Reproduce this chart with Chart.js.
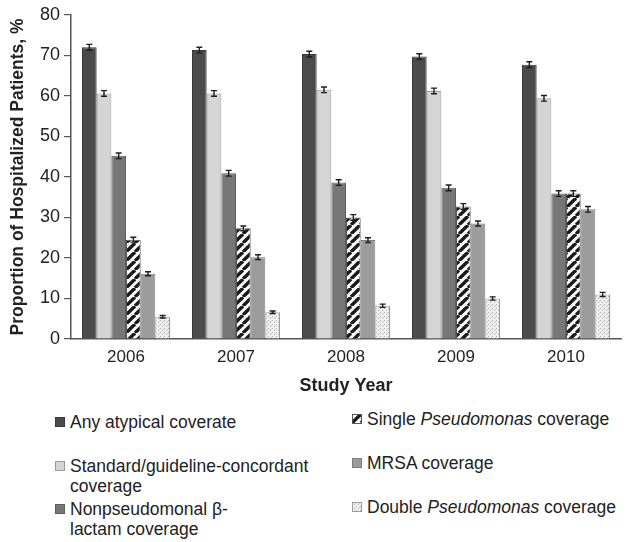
<!DOCTYPE html>
<html>
<head>
<meta charset="utf-8">
<script src="https://cdn.jsdelivr.net/npm/chart.js@4/dist/chart.umd.min.js"></script>
<style>
  html, body { margin: 0; padding: 0; background: #fff; }
  body { width: 629px; height: 542px; position: relative; overflow: hidden;
         font-family: "Liberation Sans", Arial, sans-serif; color: #222; }
  #wrap { position: absolute; left: 0; top: 0; width: 629px; height: 400px; }
  .leg { position: absolute; font-size: 17.5px; line-height: 20px; white-space: nowrap; }
  .leg canvas { position: absolute; left: 0; top: 5px; }
  .leg span { display: block; padding-left: 15px; }
</style>
</head>
<body>
<div id="wrap"><canvas id="chart" width="629" height="400"></canvas></div>
<div id="legend"></div>
<script>
// Coverage by study year, % of hospitalized patients (with 95% CI half-widths)
const YEARS = ['2006', '2007', '2008', '2009', '2010'];

const SERIES_LABELS = [
  'Any atypical coverate',
  'Standard/guideline-concordant<br>coverage',
  'Nonpseudomonal \u03b2-<br>lactam coverage',
  'Single <i>Pseudomonas</i> coverage',
  'MRSA coverage',
  'Double <i>Pseudomonas</i> coverage'
];

const ATYPICAL     = [72.0, 71.3, 70.3, 69.7, 67.7];
const STANDARD     = [60.6, 60.6, 61.5, 61.2, 59.4];
const NONPSEUDO    = [45.2, 40.9, 38.6, 37.3, 35.9];
const SINGLE_PSEUD = [24.5, 27.3, 30.0, 32.7, 35.9];
const MRSA         = [16.1, 20.2, 24.4, 28.5, 32.0];
const DOUBLE_PSEUD = [5.5, 6.6, 8.2, 10.0, 11.0];

const ATYPICAL_ERR     = [0.7, 0.7, 0.7, 0.7, 0.7];
const STANDARD_ERR     = [0.7, 0.7, 0.7, 0.7, 0.7];
const NONPSEUDO_ERR    = [0.7, 0.7, 0.7, 0.7, 0.7];
const SINGLE_PSEUD_ERR = [0.6, 0.6, 0.7, 0.7, 0.7];
const MRSA_ERR         = [0.5, 0.6, 0.6, 0.6, 0.7];
const DOUBLE_PSEUD_ERR = [0.3, 0.3, 0.4, 0.4, 0.5];

const Y_MIN = 0, Y_MAX = 80, Y_STEP = 10;

const FONT = '"Liberation Sans", Arial, sans-serif';

// Fill patterns
function hatchPattern(ctx) {
  const n = 9;
  const c = document.createElement('canvas');
  c.width = n; c.height = n;
  const g = c.getContext('2d');
  g.fillStyle = '#fff';
  g.fillRect(0, 0, n, n);
  g.strokeStyle = '#1a1a1a';
  g.lineWidth = 3.4;
  for (const off of [-n, 0, n]) {
    g.beginPath();
    g.moveTo(off, n);
    g.lineTo(off + n, 0);
    g.stroke();
  }
  return ctx.createPattern(c, 'repeat');
}

function dotPattern(ctx) {
  const c = document.createElement('canvas');
  c.width = 4; c.height = 4;
  const g = c.getContext('2d');
  g.fillStyle = '#f0f0f0';
  g.fillRect(0, 0, 4, 4);
  g.fillStyle = '#b0b0b0';
  g.fillRect(0, 0, 1, 1);
  g.fillRect(2, 2, 1, 1);
  g.fillStyle = '#cfcfcf';
  g.fillRect(3, 1, 1, 1);
  return ctx.createPattern(c, 'repeat');
}

const canvas = document.getElementById('chart');
const ctx = canvas.getContext('2d');

const FILLS = [
  () => '#4b4b4b',
  () => '#d5d5d5',
  () => '#777777',
  c => hatchPattern(c),
  () => '#9c9c9c',
  c => dotPattern(c)
];
const BORDERS = ['#3a3a3a', '#9a9a9a', '#5e5e5e', '#555555', '#7e7e7e', '#9a9a9a'];

const VALUES = [ATYPICAL, STANDARD, NONPSEUDO, SINGLE_PSEUD, MRSA, DOUBLE_PSEUD];
const ERRORS = [ATYPICAL_ERR, STANDARD_ERR, NONPSEUDO_ERR, SINGLE_PSEUD_ERR, MRSA_ERR, DOUBLE_PSEUD_ERR];

const datasets = VALUES.map((vals, i) => ({
  label: SERIES_LABELS[i].replace(/<[^>]+>/g, ' '),
  data: vals,
  errors: ERRORS[i],
  backgroundColor: FILLS[i](ctx),
  borderColor: BORDERS[i],
  borderWidth: 1,
  categoryPercentage: 0.8,
  barPercentage: 1.0
}));

// Draws the CI whiskers on top of each bar
const errorBars = {
  id: 'errorBars',
  afterDatasetsDraw(chart) {
    const c = chart.ctx;
    const y = chart.scales.y;
    c.save();
    c.strokeStyle = '#1e1e1e';
    c.lineWidth = 1.4;
    chart.data.datasets.forEach((ds, i) => {
      const meta = chart.getDatasetMeta(i);
      meta.data.forEach((bar, j) => {
        const v = ds.data[j], e = ds.errors[j];
        const top = y.getPixelForValue(v + e);
        const bot = y.getPixelForValue(v - e);
        const x = bar.x;
        c.beginPath();
        c.moveTo(x, top); c.lineTo(x, bot);
        c.moveTo(x - 3, top); c.lineTo(x + 3, top);
        c.moveTo(x - 3, bot); c.lineTo(x + 3, bot);
        c.stroke();
      });
    });
    c.restore();
  }
};

new Chart(ctx, {
  type: 'bar',
  data: { labels: YEARS, datasets },
  options: {
    responsive: false,
    animation: false,
    layout: { padding: { top: 5, right: 8, bottom: 0, left: 0 } },
    plugins: {
      legend: { display: false },
      tooltip: { enabled: false }
    },
    scales: {
      x: {
        grid: { display: false, drawTicks: false },
        border: { display: true, color: '#555', width: 1.5 },
        ticks: { color: '#222', font: { family: FONT, size: 17 }, padding: 8 },
        title: {
          display: true, text: 'Study Year', color: '#222',
          font: { family: FONT, size: 18, weight: 'bold' },
          padding: { top: 5, bottom: 3 }
        },
        afterFit: s => { s.height = 61; }
      },
      y: {
        min: Y_MIN, max: Y_MAX,
        grid: { display: true, drawOnChartArea: false, drawTicks: true, tickLength: 7, color: '#555', lineWidth: 1.2 },
        border: { display: true, color: '#555', width: 1.5 },
        ticks: { stepSize: Y_STEP, color: '#222', font: { family: FONT, size: 18 }, padding: 4 },
        title: {
          display: true, text: 'Proportion of Hospitalized Patients, %', color: '#222',
          font: { family: FONT, size: 17.5, weight: 'bold' },
          padding: { top: 8, bottom: 2 }
        },
        afterFit: s => { s.width = 71; }
      }
    }
  },
  plugins: [errorBars]
});

// Legend below the chart, two columns
const LEGEND_POS = [
  { left: 55, top: 412 },
  { left: 55, top: 456 },
  { left: 55, top: 499 },
  { left: 352, top: 409 },
  { left: 352, top: 453 },
  { left: 352, top: 497 }
];
const legendEl = document.getElementById('legend');
SERIES_LABELS.forEach((lab, i) => {
  const item = document.createElement('div');
  item.className = 'leg';
  item.style.left = LEGEND_POS[i].left + 'px';
  item.style.top = LEGEND_POS[i].top + 'px';
  const sw = document.createElement('canvas');
  sw.width = 10; sw.height = 10;
  const sctx = sw.getContext('2d');
  sctx.fillStyle = FILLS[i](sctx);
  sctx.fillRect(0, 0, 10, 10);
  sctx.strokeStyle = BORDERS[i];
  sctx.lineWidth = 1;
  sctx.strokeRect(0.5, 0.5, 9, 9);
  item.appendChild(sw);
  const txt = document.createElement('span');
  txt.innerHTML = lab;
  item.appendChild(txt);
  legendEl.appendChild(item);
});
</script>
</body>
</html>
